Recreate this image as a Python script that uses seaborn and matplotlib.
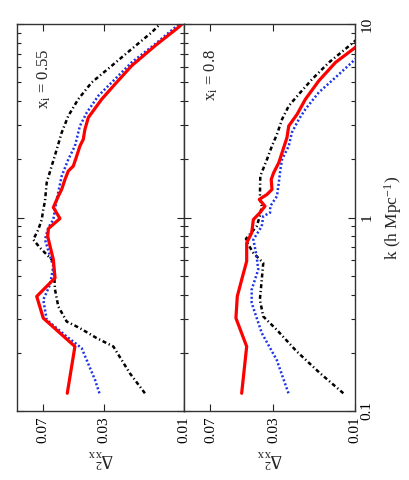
import pandas as pd
import matplotlib.pyplot as plt
import seaborn as sns
from matplotlib.ticker import LogLocator, NullLocator, NullFormatter

# panel x_i = 0.55 (top panel in the unrotated figure)
k_solid_a = [0.1235, 0.2155, 0.302, 0.391, 0.487, 0.606, 0.710, 0.800, 0.877, 0.988, 1.127, 1.289,
             1.397, 1.574, 1.738, 1.845, 2.078, 2.341, 2.535, 2.855, 3.286, 4.086, 4.886, 6.08, 7.72,
             9.61, 10.4]
d_solid_a = [0.0500, 0.0450, 0.0696, 0.0762, 0.0592, 0.0606, 0.0634, 0.0655, 0.0648, 0.0553, 0.0606,
             0.0566, 0.0540, 0.0516, 0.0493, 0.0460, 0.0439, 0.0420, 0.0401, 0.0392, 0.0374, 0.0311,
             0.0259, 0.0206, 0.0149, 0.0108, 0.0098]
k_dot_a = [0.1235, 0.1448, 0.2113, 0.2426, 0.296, 0.376, 0.450, 0.560, 0.630, 0.769, 0.884, 0.976,
           1.100, 1.240, 1.637, 1.998, 2.341, 2.972, 3.487, 4.252, 5.19, 6.33, 7.87, 9.61, 10.6]
d_dot_a = [0.0321, 0.0341, 0.0410, 0.0504, 0.0664, 0.0696, 0.0634, 0.0606, 0.0634, 0.0680, 0.0650,
           0.0606, 0.0592, 0.0578, 0.0540, 0.0493, 0.0450, 0.0420, 0.0382, 0.0326, 0.0259, 0.0206,
           0.0149, 0.0113, 0.0103]
k_dd_a = [0.1235, 0.1567, 0.2155, 0.238, 0.268, 0.290, 0.347, 0.424, 0.594, 0.697, 0.769, 0.867,
          0.976, 1.100, 1.215, 1.513, 1.845, 2.25, 2.747, 3.35, 4.086, 4.99, 6.08, 7.42, 9.06, 10.0, 10.6]
d_dd_a = [0.01714, 0.0211, 0.0265, 0.0333, 0.0420, 0.0504, 0.0566, 0.0592, 0.0606, 0.0728, 0.0799,
          0.0745, 0.0711, 0.0696, 0.0680, 0.0664, 0.0620, 0.0578, 0.0540, 0.0493, 0.0430, 0.0357,
          0.0271, 0.0206, 0.0156, 0.0139, 0.0128]

# panel x_i = 0.8
k_solid_b = [0.1235, 0.2155, 0.302, 0.391, 0.477, 0.594, 0.739, 0.833, 0.976, 1.058, 1.144, 1.240,
             1.316, 1.397, 1.574, 1.704, 1.920, 2.164, 2.588, 2.972, 3.418, 4.086, 5.08, 6.33, 7.57, 8.5]
d_solid_b = [0.0460, 0.0430, 0.0497, 0.0488, 0.0460, 0.0430, 0.0430, 0.0402, 0.0393, 0.0360, 0.0336,
             0.0363, 0.0327, 0.0306, 0.0309, 0.0299, 0.0279, 0.0267, 0.0250, 0.0244, 0.0218, 0.0195,
             0.0163, 0.0130, 0.00995, 0.0088]
k_dot_b = [0.1235, 0.1837, 0.253, 0.3614, 0.424, 0.538, 0.630, 0.769, 0.901, 1.016, 1.058, 1.144,
           1.289, 1.513, 1.773, 1.998, 2.341, 2.747, 3.218, 3.627, 4.426, 5.296, 6.45, 7.0]
d_dot_b = [0.0245, 0.0287, 0.0351, 0.0402, 0.0402, 0.0368, 0.0376, 0.0393, 0.0351, 0.0344, 0.0314,
           0.0313, 0.0286, 0.0279, 0.0273, 0.0267, 0.0244, 0.0234, 0.0213, 0.0195, 0.0163, 0.0130,
           0.0102, 0.0092]
k_dd_b = [0.1235, 0.1567, 0.203, 0.263, 0.308, 0.376, 0.477, 0.582, 0.656, 0.725, 0.776, 0.901,
          1.016, 1.144, 1.240, 1.637, 1.998, 2.341, 2.69, 3.218, 3.773, 4.339, 5.19, 6.33, 7.42, 8.20, 9.0]
d_dd_b = [0.0117, 0.0160, 0.0219, 0.0287, 0.0344, 0.0360, 0.0351, 0.0344, 0.0393, 0.0421, 0.0434,
          0.0376, 0.0360, 0.0351, 0.0360, 0.0358, 0.0327, 0.0306, 0.0286, 0.0267, 0.0244, 0.0213,
          0.0178, 0.0142, 0.0114, 0.00995, 0.0089]

panel_labels = [r"x$_{\rm i}$ = 0.55", r"x$_{\rm i}$ = 0.8"]
delta_ticks = [0.07, 0.03, 0.01]
delta_ticklabels = ["0.07", "0.03", "0.01"]
k_ticks = [0.1, 1, 10]
k_ticklabels = ["0.1", "1", "10"]

frames = []
for panel, curves in enumerate([
        [("solid", k_solid_a, d_solid_a), ("dotted", k_dot_a, d_dot_a), ("dashdot", k_dd_a, d_dd_a)],
        [("solid", k_solid_b, d_solid_b), ("dotted", k_dot_b, d_dot_b), ("dashdot", k_dd_b, d_dd_b)]]):
    for name, kk, dd in curves:
        frames.append(pd.DataFrame({"k": kk, "delta": dd, "panel": panel, "curve": name}))
data = pd.concat(frames, ignore_index=True)

styles = {
    "dashdot": dict(color="black", lw=1.8, ls=(0, (1.6, 1.1, 0.5, 1.1))),
    "dotted": dict(color="#1a33e6", lw=1.8, ls=(0, (0.8, 0.9))),
    "solid": dict(color="#ff0000", lw=2.3, ls="-"),
}

sns.set_style("ticks")
plt.rcParams["font.family"] = ["Liberation Serif"]
plt.rcParams["mathtext.fontset"] = "custom"
plt.rcParams["mathtext.rm"] = "Liberation Serif"
plt.rcParams["mathtext.it"] = "Liberation Serif:italic"

fig = plt.figure(figsize=(4.09, 4.80), dpi=100)
ax1 = fig.add_axes([17 / 409, 69 / 480, 167 / 409, 387 / 480])
ax2 = fig.add_axes([184 / 409, 69 / 480, 171 / 409, 387 / 480])

for panel, ax in enumerate([ax1, ax2]):
    ax.set_xscale("log")
    ax.set_yscale("log")
    for name in ["dashdot", "dotted", "solid"]:
        sub = data[(data.panel == panel) & (data.curve == name)]
        sns.lineplot(data=sub, x="delta", y="k", sort=False, estimator=None, ax=ax, **styles[name])
    ax.set_xlim(0.1, 0.01)
    ax.set_ylim(0.1, 10)
    ax.set_xticks(delta_ticks, labels=delta_ticklabels, rotation=90, fontsize=11)
    ax.xaxis.set_minor_locator(NullLocator())
    ax.set_yticks(k_ticks, labels=k_ticklabels, rotation=90, va="center", fontsize=11)
    ax.yaxis.set_minor_locator(LogLocator(base=10, subs=range(2, 10)))
    ax.yaxis.set_minor_formatter(NullFormatter())
    ax.tick_params(which="both", direction="in", top=True, bottom=True, left=True, right=True,
                   width=0.8, colors="#222222", labelcolor="black")
    ax.tick_params(which="major", length=5, pad=4)
    ax.tick_params(which="minor", length=3)
    ax.tick_params(axis="y", labelleft=False, labelright=(panel == 1))
    for sp in ax.spines.values():
        sp.set_color("#333333")
        sp.set_linewidth(1.0)
    ax.set_xlabel(r"$\Delta^2_{\rm xx}$", rotation=180, fontsize=13, labelpad=3)
    ax.set_ylabel("")
    ax.text(0.162, 0.935, panel_labels[panel], transform=ax.transAxes, rotation=90,
            ha="center", va="top", fontsize=12)

ax2.yaxis.set_label_position("right")
ax2.set_ylabel(r"k (h Mpc$^{-1}$)", rotation=90, fontsize=12.5, labelpad=6)

fig.savefig("out.png", dpi=100)
